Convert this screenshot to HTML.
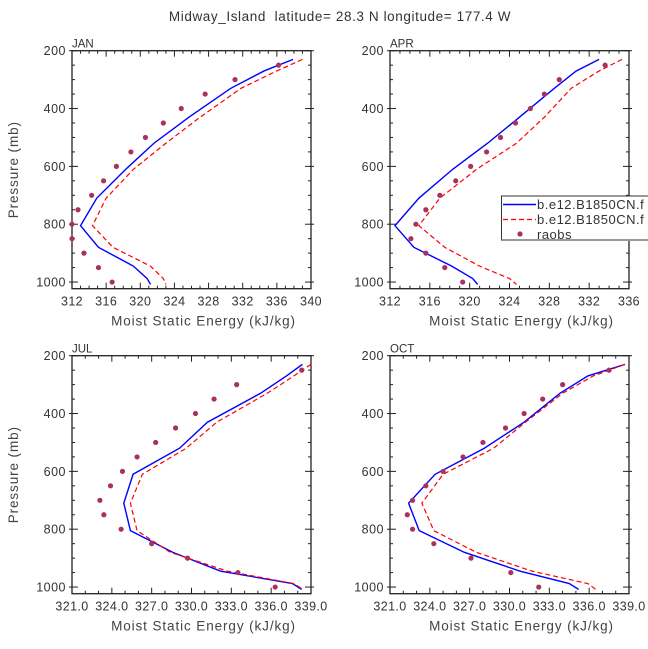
<!DOCTYPE html>
<html><head><meta charset="utf-8"><style>
body{margin:0;background:#fff;}
svg{display:block;font-family:"Liberation Sans",sans-serif;}
</style></head><body>
<svg id="chart" width="648" height="649" viewBox="0 0 648 649" xmlns="http://www.w3.org/2000/svg">
<text x="340" y="21" text-anchor="middle" font-size="13.5" fill="#333" letter-spacing="0.6" xml:space="preserve">Midway_Island  latitude= 28.3 N longitude= 177.4 W</text>
</svg>
<script>
const modelLevels=[230,270,330,430,520,610,710,805,880,945,988,1008];
const obsLevels=[250,300,350,400,450,500,550,600,650,700,750,800,850,900,950,1000];
const janBlue=[337.9,334.5,330.6,325.7,321.6,318.3,314.9,313.0,315.1,319.2,320.8,321.2];
const janRed=[339,336,331.8,327,323,319.2,316,314.4,316.8,321.2,322.7,323];
const janObs=[336.2,331.1,327.6,324.8,322.7,320.6,318.9,317.2,315.7,314.3,312.7,312.0,312.0,313.4,315.1,316.7];
const aprBlue=[333,330.7,328.5,325,321.8,318.3,314.9,312.5,314.4,318.2,320.3,320.8];
const aprRed=[335.3,333,330.2,327.5,324.7,320.7,317,314.9,317.5,321,324,324.7];
const aprObs=[333.6,329,327.5,326.1,324.6,323.1,321.7,320.1,318.6,317,315.6,314.6,314.1,315.6,317.5,319.3];
const julBlue=[338.35,337.15,335.2,331.2,329.1,325.6,324.9,325.4,328.6,332.2,337.6,338.3];
const julRed=[339,337.7,335.7,331.9,329.6,326.3,325.4,325.9,328.4,332.7,337.7,338.4];
const julObs=[338.3,333.4,331.7,330.3,328.8,327.3,325.9,324.8,323.9,323.1,323.4,324.7,327,329.7,333.5,336.3];
const octBlue=[338.7,335.9,333.8,331.1,328.1,324.4,322.4,323.2,326.6,330.8,334.5,335.2];
const octRed=[338.7,336.3,334.0,331.2,328.8,325.0,323.4,324.3,327.5,331.7,335.9,336.5];
const octObs=[337.5,334,332.5,331.1,329.7,328,326.5,325.0,323.7,322.7,322.3,322.7,324.3,327.1,330.1,332.2];
const janTicks=[312,316,320,324,328,332,336,340];
const aprTicks=[312,316,320,324,328,332,336];
const sumTicks=["321.0","324.0","327.0","330.0","333.0","336.0","339.0"];
const yTicks=[200,400,600,800,1000];
const legendLabels=["b.e12.B1850CN.f","b.e12.B1850CN.f","raobs"];

const svg=document.getElementById('chart');
const NS='http://www.w3.org/2000/svg';
function mk(tag,attrs,parent){const e=document.createElementNS(NS,tag);for(const k in attrs)e.setAttribute(k,attrs[k]);(parent||svg).appendChild(e);return e;}

const panels=[
 {name:'jan',label:'JAN',x0:72,y0:50.7,xmin:312,xmax:340,major:janTicks.map(Number),lab:janTicks.map(String),minor:1,blue:janBlue,red:janRed,obs:janObs,ytitle:true},
 {name:'apr',label:'APR',x0:390,y0:50.7,xmin:312,xmax:336,major:aprTicks.map(Number),lab:aprTicks.map(String),minor:1,blue:aprBlue,red:aprRed,obs:aprObs,ytitle:false},
 {name:'jul',label:'JUL',x0:72,y0:355.7,xmin:321,xmax:339,major:sumTicks.map(Number),lab:sumTicks,minor:1,blue:julBlue,red:julRed,obs:julObs,ytitle:true},
 {name:'oct',label:'OCT',x0:390,y0:355.7,xmin:321,xmax:339,major:sumTicks.map(Number),lab:sumTicks,minor:1,blue:octBlue,red:octRed,obs:octObs,ytitle:false}
];
const W=239,H=238,PMIN=200,PMAX=1023;
panels.forEach(p=>{
 const g=mk('g',{});
 
 
 const sx=v=>p.x0+(v-p.xmin)/(p.xmax-p.xmin)*W;
 const sy=v=>p.y0+(v-PMIN)/(PMAX-PMIN)*H;
 const frame=mk('rect',{x:p.x0,y:p.y0,width:W,height:H,fill:'none',stroke:'#222','stroke-width':1.3},g);
 
 
 const t=mk('text',{x:p.x0,y:p.y0-3,'font-size':11.5,fill:'#333'},g);t.textContent=p.label;
 
 
 for(let v=200;v<=1000;v+=50){const y=sy(v);const maj=v%200===0;const L=maj?6:3;
  mk('line',{x1:p.x0,x2:p.x0+L,y1:y,y2:y,stroke:'#222'},g);mk('line',{x1:p.x0+W,x2:p.x0+W-L,y1:y,y2:y,stroke:'#222'},g);
  if(maj){mk('line',{x1:p.x0-3,x2:p.x0,y1:y,y2:y,stroke:'#222'},g);mk('line',{x1:p.x0+W,x2:p.x0+W+3,y1:y,y2:y,stroke:'#222'},g);}}
 yTicks.forEach(v=>{const e=mk('text',{x:p.x0-6,y:sy(v)+4.5,'text-anchor':'end','font-size':12.5,fill:'#333','letter-spacing':0.5},g);e.textContent=v;
  
  });
 for(let v=p.xmin;v<=p.xmax+1e-6;v+=p.minor){const x=sx(v);const maj=p.major.some(m=>Math.abs(m-v)<1e-6);const L=maj?6:3;
  mk('line',{x1:x,x2:x,y1:p.y0+H,y2:p.y0+H-L,stroke:'#222'},g);mk('line',{x1:x,x2:x,y1:p.y0,y2:p.y0+L,stroke:'#222'},g);}
 p.major.forEach((v,i)=>{const e=mk('text',{x:sx(v),y:p.y0+H+17,'text-anchor':'middle','font-size':12.5,fill:'#333','letter-spacing':0.4},g);e.textContent=p.lab[i];
  
  });
 const xt=mk('text',{x:p.x0+W/2+12,y:p.y0+H+37,'text-anchor':'middle','font-size':13.5,fill:'#444','letter-spacing':0.9},g);xt.textContent='Moist Static Energy (kJ/kg)';
 
 
 if(p.ytitle){const yt=mk('text',{x:0,y:0,'text-anchor':'middle','font-size':13.5,fill:'#444','letter-spacing':0.9,transform:`translate(18,${p.y0+H/2}) rotate(-90)`},g);yt.textContent='Pressure (mb)';
  
  }
 const blue=mk('polyline',{points:modelLevels.map((l,i)=>sx(p.blue[i])+','+sy(l)).join(' '),fill:'none',stroke:'#0000ff','stroke-width':1.4},g);
 
 
 const red=mk('polyline',{points:modelLevels.map((l,i)=>sx(p.red[i])+','+sy(l)).join(' '),fill:'none',stroke:'#ff0000','stroke-width':1.2,'stroke-dasharray':'5,3'},g);
 
 
 obsLevels.forEach((l,i)=>{const c=mk('circle',{cx:sx(p.obs[i]),cy:sy(l),r:2.6,fill:'#a8325e'},g);
  
  });
});
const lg=mk('g',{});


mk('rect',{x:501.5,y:196,width:160,height:44,fill:'#fff',stroke:'#333','stroke-width':1},lg);
mk('line',{x1:501.5,x2:648,y1:240,y2:240,stroke:'#999','stroke-width':2},lg);
mk('line',{x1:503,x2:536,y1:204.5,y2:204.5,stroke:'#0000ff','stroke-width':1.4},lg);
mk('line',{x1:503,x2:536,y1:219.5,y2:219.5,stroke:'#ff0000','stroke-width':1.2,'stroke-dasharray':'5,3'},lg);
mk('circle',{cx:520,cy:234,r:2.6,fill:'#a8325e'},lg);
legendLabels.forEach((s,i)=>{const e=mk('text',{x:537,y:209+i*15,'font-size':13,fill:'#333','letter-spacing':0.5},lg);e.textContent=s;
 
 });
</script>
</body></html>
